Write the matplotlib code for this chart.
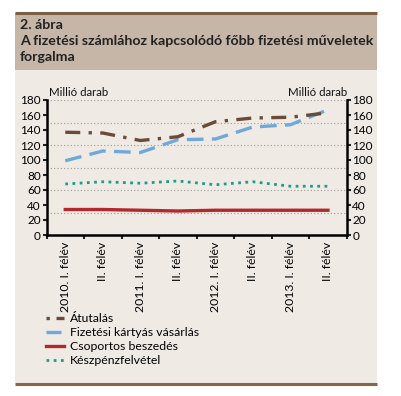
import matplotlib
matplotlib.use("Agg")
import matplotlib.pyplot as plt
from matplotlib.patches import Rectangle
from matplotlib.lines import Line2D

categories = ["2010. I. félév", "II. félév", "2011. I. félév", "II. félév",
              "2012. I. félév", "II. félév", "2013. I. félév", "II. félév"]
atutalas = [137, 136, 126, 131, 151, 156, 157, 163]
kartya = [99, 112, 110, 127, 128, 144, 147, 167]
csoportos = [34, 34, 33, 32, 33, 33, 33, 33]
keszpenz = [68, 71, 69, 72, 67, 71, 65, 65]
series_names = ["Átutalás", "Fizetési kártyás vásárlás", "Csoportos beszedés", "Készpénzfelvétel"]
y_ticks = list(range(0, 181, 20))
grid_levels = [30, 60, 90, 120, 150, 180]

plt.rcParams['font.family'] = ['Lato', 'DejaVu Sans']

W, H = 401, 396
fig = plt.figure(figsize=(W / 100, H / 100), dpi=100)
fig.patch.set_facecolor("white")

def fx(px):
    return px / W

def fy(py):
    return 1 - py / H

# background panels
bg = fig.add_axes([0, 0, 1, 1], zorder=-10)
bg.set_xlim(0, W); bg.set_ylim(H, 0); bg.axis("off")
bg.add_patch(Rectangle((15, 13), 362, 57, facecolor="#C5B6A8", edgecolor="none"))
bg.add_patch(Rectangle((15, 70), 362, 313, facecolor="#EFEAE4", edgecolor="none"))
bg.plot([15, 377], [12.5, 12.5], color="#7E5E45", lw=2.2, solid_capstyle="butt")
bg.plot([15, 377], [384, 384], color="#8A6545", lw=2.2, solid_capstyle="butt")
tfs = 10.2
bg.text(20, 25, "2. ábra", fontsize=tfs, fontweight="bold", color="#222222", va="center")
bg.text(20, 41, "A fizetési számlához kapcsolódó főbb fizetési műveletek", fontsize=tfs,
        fontweight="bold", color="#222222", va="center")
bg.text(20, 57, "forgalma", fontsize=tfs, fontweight="bold", color="#222222", va="center")
bg.text(49, 93, "Millió darab", fontsize=8.3, color="#111111", va="center", ha="left")
bg.text(347, 93, "Millió darab", fontsize=8.3, color="#111111", va="center", ha="right")

left, right, top, bottom = 46.5, 346.7, 100, 235
ax = fig.add_axes([fx(left), fy(bottom), fx(right - left), (bottom - top) / H])
ax.set_facecolor("none")
x = list(range(len(categories)))
ax.set_xlim(-0.5, len(categories) - 0.5)
ax.set_ylim(0, 180)

for g in grid_levels:
    ax.axhline(g, color="#9A9A9A", lw=0.8, ls=(0, (1, 2)), zorder=1)

ax.plot(x, keszpenz, color="#1A9E8C", lw=2.0, ls=(0, (1, 1.6)), zorder=3)
ax.plot(x, csoportos, color="#B3282D", lw=2.4, zorder=3)
ax.plot(x, kartya, color="#6FA9DB", lw=2.4, ls=(0, (5, 2.5)), zorder=3)
ax.plot(x, atutalas, color="#6B4B38", lw=2.4, ls=(0, (4.5, 2.5, 1, 2.5)), zorder=4)

nfs = 8.5
cfs = 8.8
ax.set_yticks(y_ticks)
ax.set_yticklabels([str(v) for v in y_ticks], fontsize=nfs)
ax.set_xticks([i - 0.5 for i in range(len(categories) + 1)], minor=False)
ax.set_xticklabels([])
ax.set_xticks(x, minor=True)
ax.set_xticklabels(categories, minor=True, rotation=90, fontsize=cfs, va="top", ha="center")
ax.tick_params(axis="x", which="major", length=3, width=1.5, color="#222222", direction="out")
ax.tick_params(axis="x", which="minor", length=0, pad=5)
ax.tick_params(axis="y", length=3, width=1.5, color="#222222", pad=1, direction="out")
ax.spines["top"].set_visible(False)
ax.spines["right"].set_visible(False)
ax.spines["left"].set_linewidth(1.8)
ax.spines["bottom"].set_linewidth(1.8)

ax2 = ax.twinx()
ax2.set_ylim(0, 180)
ax2.set_yticks(y_ticks)
ax2.set_yticklabels([str(v) for v in y_ticks], fontsize=nfs)
ax2.tick_params(axis="y", length=3, width=1.5, color="#222222", pad=1)
ax2.spines["right"].set_linewidth(1.8)
for s in ["top", "left", "bottom"]:
    ax2.spines[s].set_visible(False)

handles = [
    Line2D([], [], color="#6B4B38", lw=2.4, ls=(0, (1, 2, 4.5, 2))),
    Line2D([], [], color="#6FA9DB", lw=2.4, ls=(0, (4.5, 2.5, 1, 2))),
    Line2D([], [], color="#B3282D", lw=2.4),
    Line2D([], [], color="#1A9E8C", lw=2.0, ls=(0, (1, 1.6))),
]
fig.legend(handles, series_names, loc="upper left", bbox_to_anchor=(fx(46), fy(313)),
           frameon=False, fontsize=cfs, handlelength=1.5, handletextpad=0.45,
           labelspacing=0.25, borderaxespad=0, borderpad=0)

fig.savefig("out.png", dpi=100)
